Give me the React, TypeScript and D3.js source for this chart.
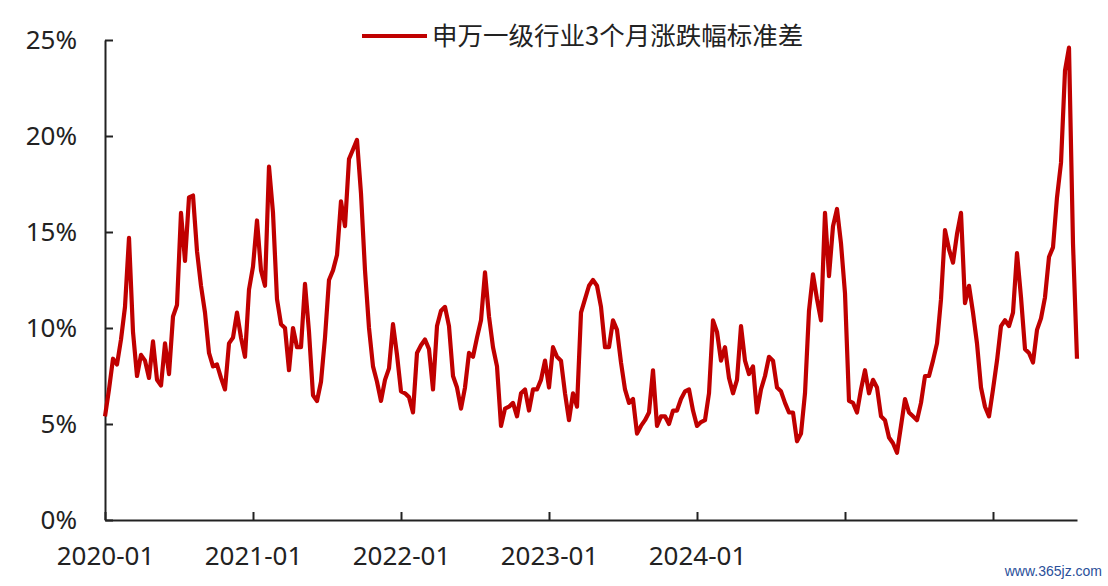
import { useEffect, useRef } from "react";
import * as d3 from "d3";

// ~weekly samples, Jan 2020 onwards (%)
const stdValues: number[] = [
  5.4, 6.8, 8.4, 8.1, 9.4, 11.1, 14.7, 9.8, 7.5, 8.6,
  8.3, 7.4, 9.3, 7.3, 7.0, 9.2, 7.6, 10.6, 11.2, 16.0,
  13.5, 16.8, 16.9, 14.0, 12.2, 10.8, 8.7, 8.0, 8.1, 7.4,
  6.8, 9.2, 9.5, 10.8, 9.5, 8.5, 12.0, 13.2, 15.6, 13.0,
  12.2, 18.4, 16.0, 11.5, 10.2, 10.0, 7.8, 10.0, 9.0, 9.0,
  12.3, 9.8, 6.5, 6.2, 7.2, 9.5, 12.5, 13.0, 13.8, 16.6,
  15.3, 18.8, 19.3, 19.8, 17.0, 13.0, 10.0, 8.0, 7.2, 6.2,
  7.3, 7.9, 10.2, 8.6, 6.7, 6.6, 6.4, 5.6, 8.7, 9.1,
  9.4, 8.9, 6.8, 10.1, 10.9, 11.1, 10.1, 7.5, 6.9, 5.8,
  6.9, 8.7, 8.5, 9.5, 10.4, 12.9, 10.6, 9.0, 8.0, 4.9,
  5.8, 5.9, 6.1, 5.4, 6.6, 6.8, 5.7, 6.8, 6.8, 7.3,
  8.3, 6.9, 9.0, 8.5, 8.3, 6.6, 5.2, 6.6, 5.9, 10.8,
  11.5, 12.2, 12.5, 12.2, 11.1, 9.0, 9.0, 10.4, 9.9, 8.2,
  6.8, 6.1, 6.3, 4.5, 4.9, 5.2, 5.6, 7.8, 4.9, 5.4,
  5.4, 5.0, 5.7, 5.7, 6.3, 6.7, 6.8, 5.7, 4.9, 5.1,
  5.2, 6.6, 10.4, 9.8, 8.3, 9.0, 7.4, 6.6, 7.3, 10.1,
  8.3, 7.6, 8.0, 5.6, 6.8, 7.5, 8.5, 8.3, 6.9, 6.7,
  6.1, 5.6, 5.6, 4.1, 4.5, 6.6, 10.9, 12.8, 11.5, 10.4,
  16.0, 12.7, 15.3, 16.2, 14.4, 11.8, 6.2, 6.1, 5.6, 6.8,
  7.8, 6.6, 7.3, 6.9, 5.4, 5.2, 4.3, 4.0, 3.5, 4.9,
  6.3, 5.6, 5.4, 5.2, 6.1, 7.5, 7.5, 8.3, 9.2, 11.5,
  15.1, 14.1, 13.4, 14.9, 16.0, 11.3, 12.2, 10.8, 9.2, 6.9,
  5.9, 5.4, 6.8, 8.3, 10.1, 10.4, 10.1, 10.8, 13.9, 11.6,
  8.9, 8.7, 8.2, 9.9, 10.5, 11.6, 13.7, 14.2, 16.8, 18.6,
  23.4, 24.6, 14.4, 8.4,
];

// x tick positions (sample index) and their labels
const xTickIndex = [0, 37, 74, 111, 148, 185, 222];
const xTickLabels = ["2020-01", "2021-01", "2022-01", "2023-01", "2024-01", "", ""];
const yTicks = [0, 5, 10, 15, 20, 25];

const seriesName = "申万一级行业3个月涨跌幅标准差";

export default function App() {
  const svgRef = useRef<SVGSVGElement>(null);

  useEffect(() => {
    if (!svgRef.current) return;
    const W = 1108;
    const H = 586;
    const margin = { top: 40, right: 31, bottom: 66, left: 105 };
    const lineColor = "#C00000";
    const inkColor = "#222";
    const font = "'Noto Sans', 'Open Sans', sans-serif";

    const svg = d3.select(svgRef.current);
    svg.selectAll("*").remove();
    svg.attr("width", W).attr("height", H);

    const xScale = d3
      .scaleLinear()
      .domain([0, stdValues.length - 1])
      .range([margin.left, W - margin.right]);
    const yScale = d3
      .scaleLinear()
      .domain([0, 25])
      .range([H - margin.bottom, margin.top]);

    // Axes
    const xAxis = d3
      .axisBottom(xScale)
      .tickValues(xTickIndex)
      .tickSize(-8)
      .tickSizeOuter(0)
      .tickPadding(27)
      .tickFormat((_, i) => xTickLabels[i]);

    const gx = svg
      .append("g")
      .attr("transform", `translate(0,${H - margin.bottom})`)
      .call(xAxis);

    const yAxis = d3
      .axisLeft(yScale)
      .tickValues(yTicks)
      .tickSize(-8)
      .tickSizeOuter(0)
      .tickPadding(28)
      .tickFormat((d) => `${d}%`);

    const gy = svg
      .append("g")
      .attr("transform", `translate(${margin.left},0)`)
      .call(yAxis);

    [gx, gy].forEach((g) => {
      g.select(".domain").attr("stroke", inkColor).attr("stroke-width", 2);
      g.selectAll(".tick line").attr("stroke", inkColor).attr("stroke-width", 2);
      g.selectAll(".tick text")
        .attr("fill", inkColor)
        .style("font-family", font)
        .style("font-size", "26px");
    });

    // Series line
    const line = d3
      .line<number>()
      .x((_, i) => xScale(i))
      .y((d) => yScale(d));

    svg
      .append("path")
      .datum(stdValues)
      .attr("fill", "none")
      .attr("stroke", lineColor)
      .attr("stroke-width", 4.2)
      .attr("stroke-linejoin", "round")
      .attr("d", line);

    // Legend
    const legend = svg.append("g").attr("transform", "translate(362,36)");
    legend
      .append("line")
      .attr("x1", 0)
      .attr("x2", 65)
      .attr("stroke", lineColor)
      .attr("stroke-width", 4);
    legend
      .append("text")
      .attr("x", 70)
      .attr("dy", "0.36em")
      .attr("fill", inkColor)
      .style("font-family", "'Noto Sans CJK SC', sans-serif")
      .style("font-size", "25.5px")
      .text(seriesName);

    // source mark, bottom right
    svg
      .append("text")
      .attr("x", W - 6)
      .attr("y", H - 10)
      .attr("text-anchor", "end")
      .attr("fill", "#2a4f9a")
      .style("font-family", "'Liberation Sans Narrow', 'Liberation Sans', sans-serif")
      .style("font-size", "14px")
      .text("www.365jz.com");
  }, []);

  return (
    <svg
      ref={svgRef}
      style={{ position: "absolute", left: 0, top: 0, background: "#fff" }}
    />
  );
}
